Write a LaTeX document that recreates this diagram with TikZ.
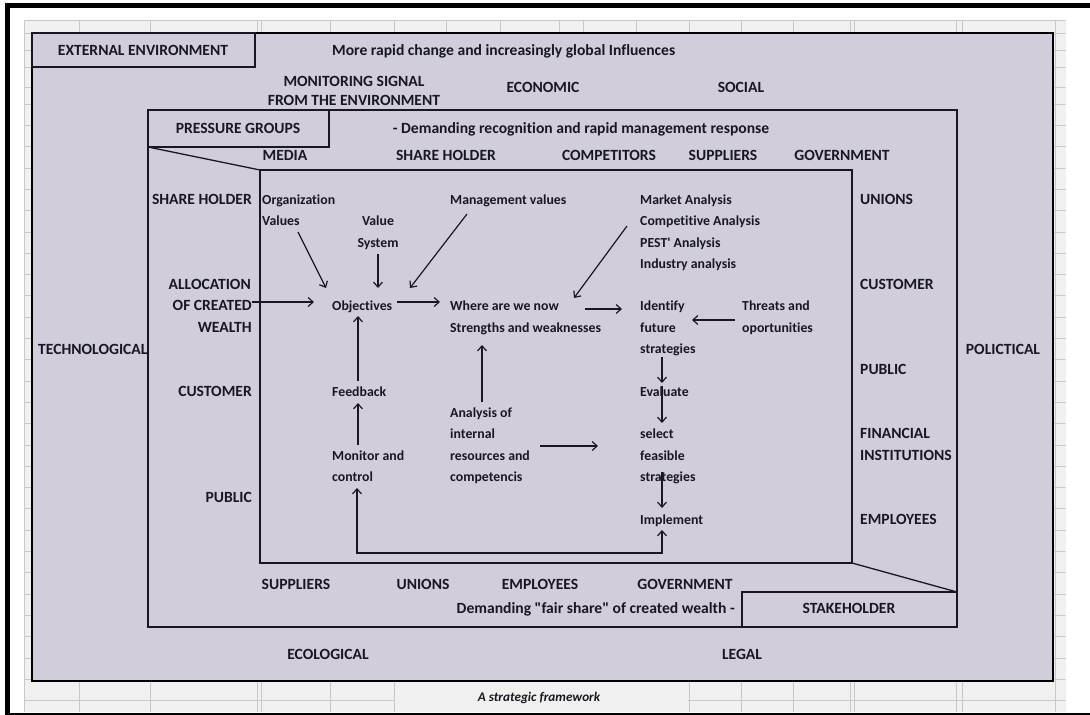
\documentclass[tikz,border=0pt]{standalone}
\usepackage{fontspec}
\setmainfont{Carlito}[Ligatures={TeXOff,CommonOff}]
\usetikzlibrary{arrows.meta}
\definecolor{boxfill}{RGB}{211,205,219}
\definecolor{ink}{RGB}{24,24,34}
\definecolor{cellbg}{RGB}{240,240,240}
\definecolor{gridline}{RGB}{200,200,204}
\begin{document}
\begin{tikzpicture}[x=1pt,y=-1pt,
  lab/.style={font=\fontsize{15.6}{18}\selectfont\bfseries, text=ink, inner sep=0pt, text height=9.85pt, text depth=0pt},
  txt/.style={font=\fontsize{13.8}{16}\selectfont\bfseries, text=ink, inner sep=0pt, text height=8.7pt, text depth=0pt},
  outerframe/.style={draw=black, line width=2pt},
  panel/.style={draw=ink, line width=1.3pt},
  flow/.style={draw=ink, line width=1.2pt, -{Straight Barb[length=5pt,width=9pt]}},
  twoway/.style={draw=ink, line width=1.2pt, {Straight Barb[length=5pt,width=9pt]}-{Straight Barb[length=5pt,width=9pt]}},
]
\useasboundingbox (0,0) rectangle (1090,715);
\fill[white] (0,0) rectangle (1090,715);

% spreadsheet cells behind the drawing
\fill[cellbg] (24,20) rectangle (1066,712);
\foreach \gx in {24,79,150,257,261,330,394,446,500,559,583,636,689,741,793,850,854,956,962,1055}
  \draw[gridline, line width=0.8pt] (\gx,20) -- (\gx,712);
\foreach \gy in {20,33,50,67,87,104,125.4,146.7,168}
  \draw[gridline, line width=0.8pt] (24,\gy) -- (1066,\gy);
\foreach \k in {0,...,24}
  \draw[gridline, line width=0.8pt] (24,189.35+21.3*\k) -- (1066,189.35+21.3*\k);
% merged caption cell
\fill[cellbg] (394.6,682) rectangle (688.4,711.6);

% page frame
\fill[black] (5,3) rectangle (1090,8);
\fill[black] (5,3) rectangle (10,715);
\fill[black] (5,712.6) rectangle (1090,714.6);

% external environment
\filldraw[fill=boxfill, outerframe] (32,33) rectangle (1053,681);
\draw[panel] (32,33) rectangle (255,67);
% pressure groups
\draw[panel] (148,110) rectangle (957,627);
\draw[panel] (148,110) rectangle (329,147);
\draw[panel] (148,147) -- (260,170);
% organisation
\draw[panel] (260,170) rectangle (852,563);
% stakeholder
\draw[panel] (852,563) -- (957,592);
\draw[panel] (742,592) rectangle (957,627);

% outer labels
\node[lab] (ext) at (143,51) {EXTERNAL ENVIRONMENT};
\node[lab, anchor=west] (rapid) at (332,51) {More rapid change and increasingly global Influences};
\node[lab] (mon1) at (354,82) {MONITORING SIGNAL};
\node[lab] (mon2) at (354,101) {FROM THE ENVIRONMENT};
\node[lab] (econ) at (543,88) {ECONOMIC};
\node[lab] (soc) at (741,88) {SOCIAL};
\node[lab, anchor=west] (tech) at (38,350) {TECHNOLOGICAL};
\node[lab] (pol) at (1003,350) {POLICTICAL};
\node[lab] (eco) at (328,655) {ECOLOGICAL};
\node[lab] (legal) at (742,655) {LEGAL};

% pressure group labels
\node[lab] (pg) at (238,129) {PRESSURE GROUPS};
\node[lab] (recog) at (581,129) {- Demanding recognition and rapid management response};
\node[lab] (tmedia) at (285,156) {MEDIA};
\node[lab] (tshare) at (446,156) {SHARE HOLDER};
\node[lab] (tcomp) at (609,156) {COMPETITORS};
\node[lab] (tsupp) at (723,156) {SUPPLIERS};
\node[lab] (tgov) at (842,156) {GOVERNMENT};

\node[lab, anchor=east] (lshare) at (252,200) {SHARE HOLDER};
\node[lab, anchor=east] (alloc1) at (251,285) {ALLOCATION};
\node[lab, anchor=east] (alloc2) at (252,306) {OF CREATED};
\node[lab, anchor=east] (alloc3) at (252,328) {WEALTH};
\node[lab, anchor=east] (lcust) at (252,392) {CUSTOMER};
\node[lab, anchor=east] (lpub) at (252,498) {PUBLIC};

\node[lab, anchor=west] (runi) at (860,200) {UNIONS};
\node[lab, anchor=west] (rcust) at (860,285) {CUSTOMER};
\node[lab, anchor=west] (rpub) at (860,370) {PUBLIC};
\node[lab, anchor=west] (rfin1) at (860,434) {FINANCIAL};
\node[lab, anchor=west] (rfin2) at (860,456) {INSTITUTIONS};
\node[lab, anchor=west] (remp) at (860,520) {EMPLOYEES};

\node[lab] (bsupp) at (296,585) {SUPPLIERS};
\node[lab] (buni) at (423,585) {UNIONS};
\node[lab] (bemp) at (540,585) {EMPLOYEES};
\node[lab] (bgov) at (685,585) {GOVERNMENT};
\node[lab, anchor=east] (fair) at (735,609) {Demanding "fair share" of created wealth -};
\node[lab] (stake) at (849,609) {STAKEHOLDER};

% strategy process
\node[txt, anchor=west] (org) at (262,200) {Organization};
\node[txt, anchor=west] (vals) at (262,221) {Values};
\node[txt] (val) at (378,221) {Value};
\node[txt] (sys) at (378,243) {System};
\node[txt, anchor=west] (mgmt) at (450,200) {Management values};
\node[txt, anchor=west] (mkt) at (640,200) {Market Analysis};
\node[txt, anchor=west] (comp) at (640,221) {Competitive Analysis};
\node[txt, anchor=west] (pest) at (640,243) {PEST' Analysis};
\node[txt, anchor=west] (ind) at (640,264) {Industry analysis};
\node[txt, anchor=west] (obj) at (332,306) {Objectives};
\node[txt, anchor=west] (where) at (450,306) {Where are we now};
\node[txt, anchor=west] (sw) at (450,328) {Strengths and weaknesses};
\node[txt, anchor=west] (ident) at (640,306) {Identify};
\node[txt, anchor=west] (fut) at (640,328) {future};
\node[txt, anchor=west] (strat) at (640,349) {strategies};
\node[txt, anchor=west] (thr) at (742,306) {Threats and};
\node[txt, anchor=west] (opp) at (742,328) {oportunities};
\node[txt, anchor=west] (fb) at (332,392) {Feedback};
\node[txt, anchor=west] (an1) at (450,413) {Analysis of};
\node[txt, anchor=west] (an2) at (450,434) {internal};
\node[txt, anchor=west] (an3) at (450,456) {resources and};
\node[txt, anchor=west] (an4) at (450,477) {competencis};
\node[txt, anchor=west] (mon) at (332,456) {Monitor and};
\node[txt, anchor=west] (ctl) at (332,477) {control};
\node[txt, anchor=west] (eval) at (640,392) {Evaluate};
\node[txt, anchor=west] (sel) at (640,434) {select};
\node[txt, anchor=west] (feas) at (640,456) {feasible};
\node[txt, anchor=west] (fstrat) at (640,477) {strategies};
\node[txt, anchor=west] (impl) at (640,520) {Implement};

% connectors
\draw[flow] ([shift={(36,11)}]vals.west) -- ([shift={(-6,-18)}]obj.west);
\draw[flow] ([shift={(0,11)}]sys.center) -- ([shift={(46,-18)}]obj.west);
\draw[flow] ([shift={(17,14)}]mgmt.west) -- ([shift={(78,-18)}]obj.west);
\draw[flow] ([shift={(-13,5)}]comp.west) -- ([shift={(124,-8)}]where.west);
\draw[flow] ([shift={(0,-4)}]alloc2.east) -- ([shift={(-18,-4)}]obj.west);
\draw[flow] ([shift={(65,-4)}]obj.west) -- ([shift={(-10,-4)}]where.west);
\draw[flow] ([shift={(135,3)}]where.west) -- ([shift={(-18,3)}]ident.west);
\draw[flow] ([shift={(-7,14)}]thr.west) -- ([shift={(52,14)}]ident.west);
\draw[flow] ([shift={(26,-11)}]fb.west) -- ([shift={(26,10)}]obj.west);
\draw[flow] ([shift={(26,-11)}]mon.west) -- ([shift={(26,11)}]fb.west);
\draw[flow] ([shift={(32,-11)}]an1.west) -- ([shift={(32,17)}]sw.west);
\draw[flow] ([shift={(90,-10)}]an3.west) -- ([shift={(-42,12)}]sel.west);
\draw[flow] ([shift={(22,8)}]strat.west) -- ([shift={(22,-9)}]eval.west);
\draw[flow] ([shift={(22,-6)}]eval.west) -- ([shift={(22,-11)}]sel.west);
\draw[flow] ([shift={(22,-5)}]fstrat.west) -- ([shift={(22,-12)}]impl.west);
\draw[twoway] ([shift={(22,10)}]impl.west) -- ++(0,23) -| ([shift={(25,11)}]ctl.west);

% caption
\node[font=\fontsize{13.2}{15}\selectfont\bfseries\itshape, text=ink, inner sep=0pt] (cap) at (539,698) {A strategic framework};
\end{tikzpicture}
\end{document}
